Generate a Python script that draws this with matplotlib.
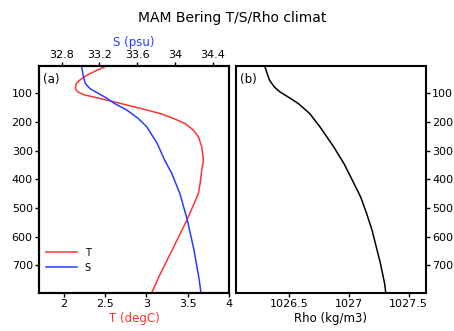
"""MAM Bering T/S/Rho climatology profiles"""
import matplotlib
matplotlib.use("Agg")
import matplotlib.pyplot as plt

# values
T_DEPTH = [6, 20, 37, 55, 66, 84, 95, 105, 113, 124, 138, 153, 171, 188, 206,
           229, 252, 287, 334, 369, 415, 450, 543, 648, 741, 799]
T_VALS = [2.51, 2.40, 2.28, 2.19, 2.15, 2.14, 2.17, 2.24, 2.36, 2.52, 2.72,
          2.93, 3.17, 3.33, 3.47, 3.57, 3.63, 3.67, 3.69, 3.67, 3.65, 3.63,
          3.49, 3.31, 3.15, 3.06]

S_DEPTH = [6, 43, 66, 84, 101, 118, 136, 159, 188, 217, 275, 334, 380, 450,
           543, 648, 741, 799]
S_VALS = [33.01, 33.03, 33.05, 33.10, 33.19, 33.28, 33.36, 33.49, 33.61,
          33.70, 33.81, 33.89, 33.965, 34.05, 34.13, 34.20, 34.25, 34.275]

RHO_DEPTH = [6, 31, 55, 78, 95, 113, 136, 171, 217, 287, 345, 403, 462, 520,
             578, 636, 694, 764, 799]
RHO_VALS = [1026.30, 1026.32, 1026.34, 1026.38, 1026.425, 1026.495, 1026.58,
            1026.675, 1026.76, 1026.875, 1026.96, 1027.03, 1027.10, 1027.15,
            1027.195, 1027.23, 1027.265, 1027.30, 1027.31]

DEPTH_TICKS = [100, 200, 300, 400, 500, 600, 700]
T_TICKS = [2, 2.5, 3, 3.5, 4]
T_LABELS = ["2", "2.5", "3", "3.5", "4"]
S_TICKS = [32.8, 33.2, 33.6, 34.0, 34.4]
S_LABELS = ["32.8", "33.2", "33.6", "34", "34.4"]
RHO_TICKS = [1026.5, 1027, 1027.5]
RHO_LABELS = ["1026.5", "1027", "1027.5"]

RED = "#ff3333"
BLUE = "#2a3cff"
FS = 8

plt.rcParams["font.family"] = ["DejaVu Sans"]
fig = plt.figure(figsize=(4.54, 3.31), dpi=100)

ax_t = fig.add_axes([0.0859, 0.1148, 0.4185, 0.6858])
ax_s = ax_t.twiny()
ax_r = fig.add_axes([0.5198, 0.1148, 0.4185, 0.6858])

lt, = ax_t.plot(T_VALS, T_DEPTH, color=RED, lw=1.1)
ls, = ax_s.plot(S_VALS, S_DEPTH, color=BLUE, lw=1.1)
ax_r.plot(RHO_VALS, RHO_DEPTH, color="black", lw=1.1)

for ax in (ax_t, ax_s, ax_r):
    ax.set_ylim(797, 5)
    for sp in ax.spines.values():
        sp.set_linewidth(1.5)

ax_t.set_xlim(1.7, 4.0)
ax_t.set_xticks(T_TICKS, T_LABELS)
ax_t.set_yticks(DEPTH_TICKS)
ax_t.set_xlabel("T (degC)", color=RED, fontsize=FS + 0.5, labelpad=2)
ax_t.tick_params(labelsize=FS, direction="out", length=3, width=1, pad=1.5)

ax_s.set_xlim(32.56, 34.57)
ax_s.set_xticks(S_TICKS, S_LABELS)
ax_s.set_xlabel("S (psu)", color=BLUE, fontsize=FS + 0.5, labelpad=3)
ax_s.tick_params(labelsize=FS, direction="out", length=3, width=1, pad=1.5)

ax_r.set_xlim(1026.06, 1027.645)
ax_r.set_xticks(RHO_TICKS, RHO_LABELS)
ax_r.set_yticks(DEPTH_TICKS)
ax_r.yaxis.tick_right()
ax_r.set_xlabel("Rho (kg/m3)", fontsize=FS + 0.5, labelpad=2)
ax_r.tick_params(labelsize=FS, direction="out", length=3, width=1, pad=1.5)

ax_t.text(0.02, 0.97, "(a)", transform=ax_t.transAxes, fontsize=FS + 0.5,
          va="top", ha="left")
ax_r.text(0.02, 0.97, "(b)", transform=ax_r.transAxes, fontsize=FS + 0.5,
          va="top", ha="left")

ax_s.legend([lt, ls], ["T", "S"], loc="lower left", frameon=False,
            fontsize=7, handlelength=3.2, borderaxespad=0.3,
            labelspacing=0.5, bbox_to_anchor=(0.0, 0.06))

fig.text(0.511, 0.945, "MAM Bering T/S/Rho climat", ha="center",
         va="center", fontsize=10)

fig.savefig("out.png", dpi=100)
